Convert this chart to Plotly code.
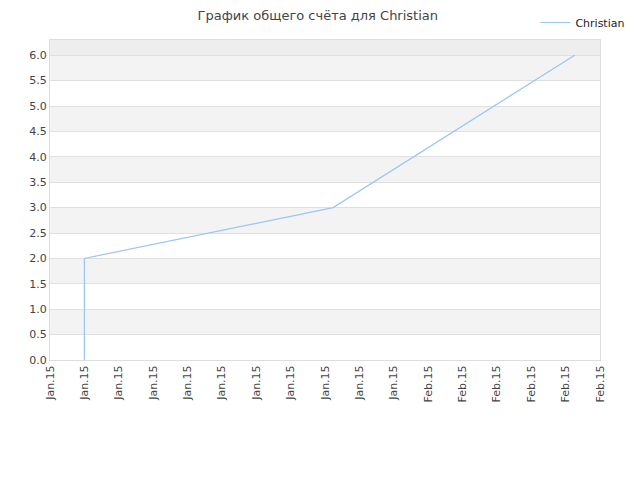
import plotly.graph_objects as go

# score history for Christian
dates = ["2015-01-04 00:00", "2015-01-04 00:00", "2015-01-25 17:00", "2015-02-15 19:00"]
scores = [0, 2, 3, 6]

# x axis: evenly spaced ticks, labelled month.year
tick_dates = ["2015-01-01", "2015-01-04", "2015-01-07", "2015-01-10", "2015-01-13",
              "2015-01-16", "2015-01-19", "2015-01-22", "2015-01-25", "2015-01-28",
              "2015-01-31", "2015-02-03", "2015-02-06", "2015-02-09", "2015-02-12",
              "2015-02-15", "2015-02-18"]
tick_labels = ["Jan.15"] * 11 + ["Feb.15"] * 6

y_ticks = [0, 0.5, 1, 1.5, 2, 2.5, 3, 3.5, 4, 4.5, 5, 5.5, 6]
y_max = 6.3

fig = go.Figure(go.Scatter(x=dates, y=scores, mode="lines", name="Christian",
                           line=dict(color="#99c6f5", width=1.2)))

# alternating background bands
shapes = []
for lo in y_ticks:
    if lo * 2 % 2 == 1:
        shapes.append(dict(type="rect", xref="paper", yref="y", x0=0, x1=1,
                           y0=lo, y1=lo + 0.5, fillcolor="#f3f3f3",
                           line=dict(width=0), layer="below"))
shapes.append(dict(type="rect", xref="paper", yref="y", x0=0, x1=1, y0=6, y1=y_max,
                   fillcolor="#eeeeee", line=dict(width=0), layer="below"))

# page body adds 8px, so margins are shifted by that
fig.update_layout(
    width=640, height=480,
    margin=dict(l=42, r=48, t=32, b=128, autoexpand=False),
    paper_bgcolor="white", plot_bgcolor="white",
    font=dict(family="DejaVu Sans", size=11, color="#444"),
    title=dict(text="График общего счёта для Christian", x=0.484, xanchor="center",
               y=0.995, yanchor="top", yref="container", font=dict(size=13, color="#444")),
    showlegend=True,
    legend=dict(x=0.9725, y=1.02, xanchor="right", yanchor="top", yref="container",
                xref="container", bgcolor="rgba(0,0,0,0)",
                font=dict(size=11, color="#222")),
    shapes=shapes,
    xaxis=dict(type="date", range=[tick_dates[0], tick_dates[-1]],
               tickmode="array", tickvals=tick_dates, ticktext=tick_labels,
               tickangle=-90, showgrid=False, zeroline=False, automargin=False,
               showline=True, linecolor="#dddddd", mirror=True,
               ticks="", tickfont=dict(size=11, color="#444")),
    yaxis=dict(range=[0, y_max], tickmode="array", tickvals=y_ticks,
               ticktext=["%.1f" % v for v in y_ticks], automargin=False,
               showgrid=True, gridcolor="#e0e0e0", zeroline=False,
               showline=True, linecolor="#dddddd", mirror=True,
               ticks="", tickfont=dict(size=11, color="#444")),
)

fig.write_html("out.html")
